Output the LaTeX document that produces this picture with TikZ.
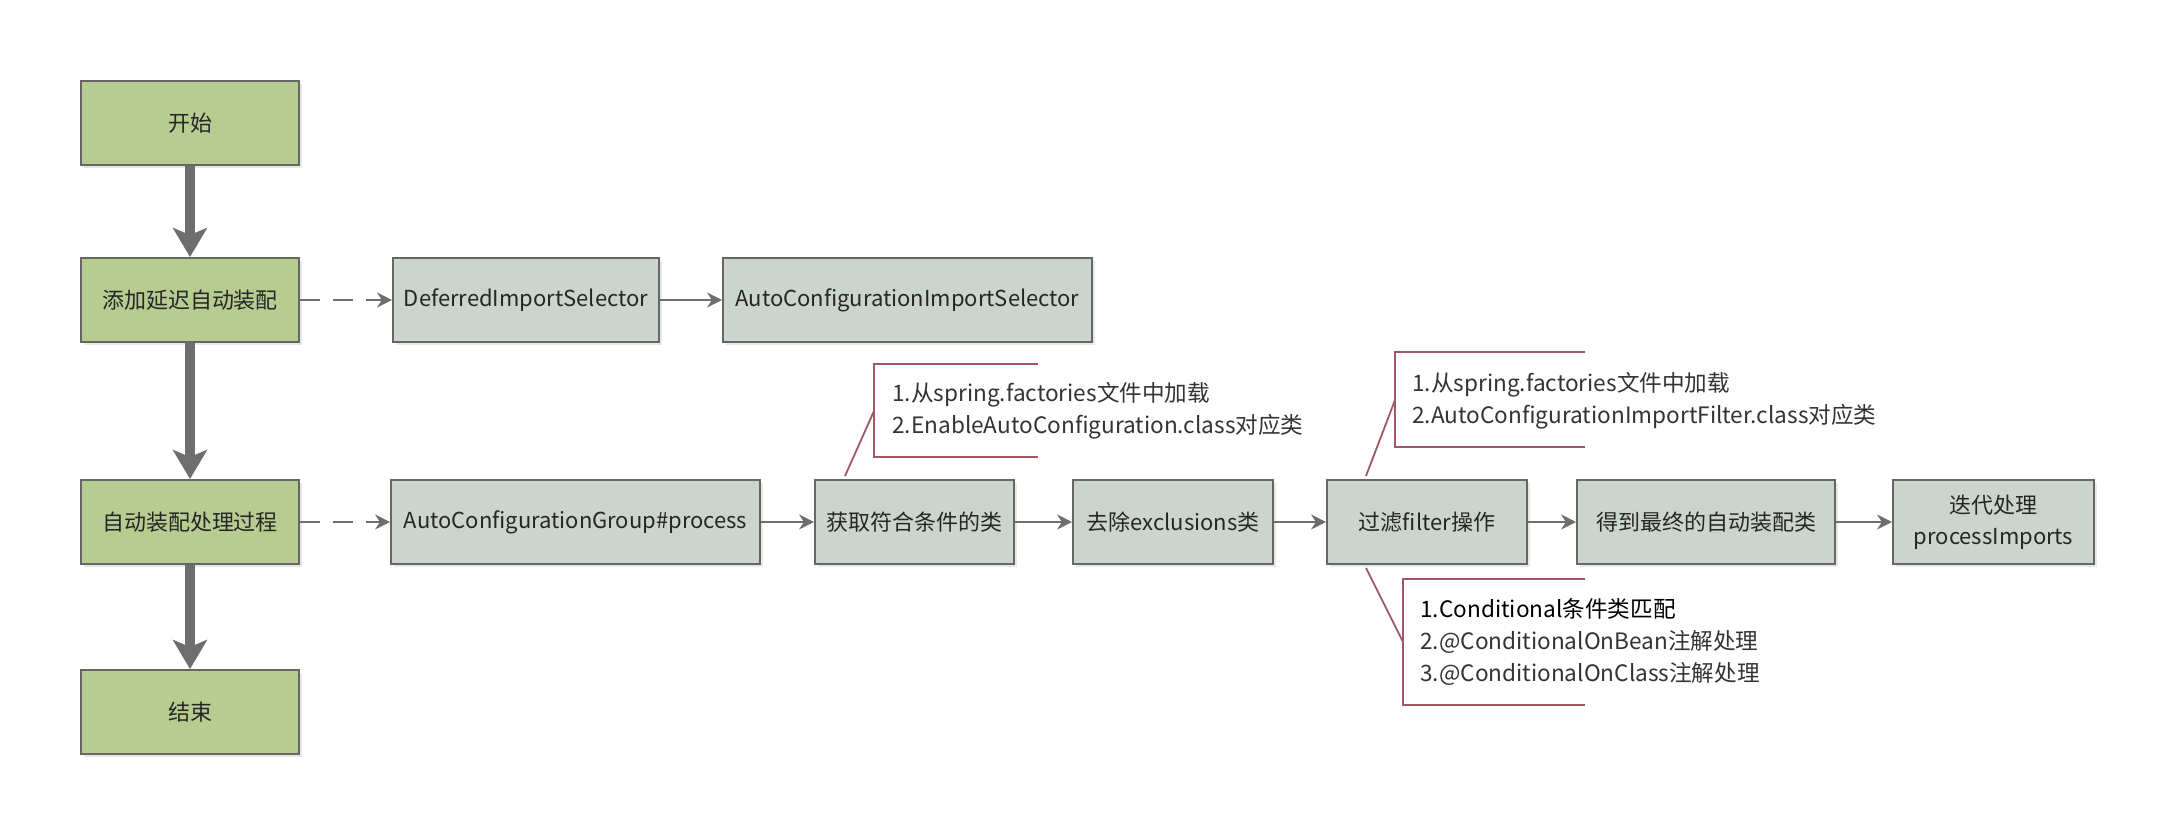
\documentclass[tikz,border=0pt]{standalone}
\usepackage{fontspec}
\setmainfont{Noto Sans CJK SC}
\usetikzlibrary{arrows.meta,shadows}

\definecolor{greenfill}{HTML}{B7CC91}
\definecolor{grayfill}{HTML}{CBD5CD}
\definecolor{edgegray}{HTML}{666666}
\definecolor{flowgray}{HTML}{6E6E6E}
\definecolor{notered}{HTML}{A05865}
\definecolor{boxtext}{HTML}{262626}
\definecolor{notetext}{HTML}{333333}

\begin{document}
\begin{tikzpicture}[x=0.5pt,y=-0.5pt,
  basebox/.style={draw=edgegray, line width=1pt, minimum height=42pt, inner sep=0pt,
    align=center, text=boxtext, font=\fontsize{11}{15.5}\selectfont,
    drop shadow={shadow xshift=1.6pt, shadow yshift=-1.6pt, fill=black!9, opacity=1}},
  greenbox/.style={basebox, fill=greenfill, minimum width=109pt},
  graybox/.style={basebox, fill=grayfill},
  flow/.style={draw=flowgray, line width=5.4pt,
    -{Stealth[length=14.5pt, width=17pt, inset=3.5pt]}},
  link/.style={draw=flowgray, line width=1pt,
    -{Stealth[length=7.5pt, width=7.5pt, inset=2.5pt]}},
  dashlink/.style={link, dash pattern=on 10pt off 6.5pt},
  noteline/.style={draw=notered, line width=0.9pt},
  notetxt/.style={anchor=west, inner sep=0pt, align=left, text=notetext,
    font=\fontsize{11.3}{16}\selectfont}
]
\useasboundingbox[fill=white] (0,0) rectangle (2176,836);

% main vertical flow
\node[greenbox] (start) at (190,123) {开始};
\node[greenbox] (add)   at (190,300) {添加延迟自动装配};
\node[greenbox] (proc)  at (190,522) {自动装配处理过程};
\node[greenbox] (end)   at (190,712) {结束};

% selector chain
\node[graybox, minimum width=133pt]   (defer) at (526,300)   {DeferredImportSelector};
\node[graybox, minimum width=184.5pt] (acis)  at (907.5,300) {AutoConfigurationImportSelector};

% processing chain
\node[graybox, minimum width=184.5pt] (group) at (575.5,522) {AutoConfigurationGroup\#process};
\node[graybox, minimum width=99.5pt]  (get)   at (914.5,522) {获取符合条件的类};
\node[graybox, minimum width=100pt]   (excl)  at (1173,522)  {去除exclusions类};
\node[graybox, minimum width=100pt]   (filt)  at (1427,522)  {过滤filter操作};
\node[graybox, minimum width=129pt]   (final) at (1706,522)  {得到最终的自动装配类};
\node[graybox, minimum width=100.5pt] (iter)  at (1993.5,522) {迭代处理\\processImports};

% connectors
\draw[flow] (start) -- (add);
\draw[flow] (add) -- (proc);
\draw[flow] (proc) -- (end);
\draw[dashlink] (add) -- (defer);
\draw[link] (defer) -- (acis);
\draw[dashlink] (proc) -- (group);
\draw[link] (group) -- (get);
\draw[link] (get) -- (excl);
\draw[link] (excl) -- (filt);
\draw[link] (filt) -- (final);
\draw[link] (final) -- (iter);

% annotation: candidate classes
\coordinate (n1) at (874,411);
\draw[noteline] (1038,364) -- (874,364) -- (874,457) -- (1038,457);
\draw[noteline] ([xshift=15.5pt,yshift=1.5pt]get.north west) -- (n1);
\node[notetxt] (t1) at (892,411) {1.从spring.factories文件中加载\\2.EnableAutoConfiguration.class对应类};

% annotation: import filters
\coordinate (n2) at (1395,400);
\draw[noteline] (1585,352) -- (1395,352) -- (1395,447) -- (1585,447);
\draw[noteline] ([xshift=20pt,yshift=1.5pt]filt.north west) -- (n2);
\node[notetxt] (t2) at (1412,401) {1.从spring.factories文件中加载\\2.AutoConfigurationImportFilter.class对应类};

% annotation: conditions
\coordinate (n3) at (1403,642);
\draw[noteline] (1585,579) -- (1403,579) -- (1403,705) -- (1585,705);
\draw[noteline] ([xshift=20pt,yshift=-1.5pt]filt.south west) -- (n3);
\node[notetxt] (t3) at (1420,642) {\textcolor{black}{1.Conditional条件类匹配}\\2.@ConditionalOnBean注解处理\\3.@ConditionalOnClass注解处理};
\end{tikzpicture}
\end{document}
